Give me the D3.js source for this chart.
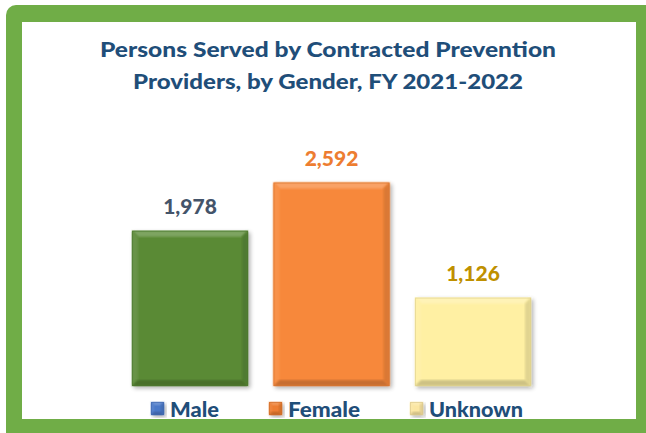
<!DOCTYPE html>
<html>
<head>
<meta charset="utf-8">
<script src="https://cdn.jsdelivr.net/npm/d3@7"></script>
<style>
  html, body { margin: 0; padding: 0; background: #ffffff; }
  svg { display: block; }
</style>
</head>
<body>
<svg id="chart" width="646" height="433"></svg>
<script>
// Persons served, by gender
const categories = ["Male", "Female", "Unknown"];
const values = [1978, 2592, 1126];
const barColors = ["#5a8a36", "#f7883b", "#fff0a3"];
const labelColors = ["#44546a", "#ed7d31", "#bf9000"];
const legendColors = ["#4a78c8", "#ed7d31", "#fbe6a2"];
const titleLines = ["Persons Served by Contracted Prevention", "Providers, by Gender, FY 2021-2022"];

const W = 646, H = 433;
const svg = d3.select("#chart");
const FONT = "Lato, 'Open Sans', sans-serif";

// Frame: thick green border around a white panel
svg.append("rect").attr("x", 0).attr("y", 0).attr("width", W).attr("height", H).attr("fill", "#ffffff");
svg.append("rect").attr("x", 6).attr("y", 5).attr("width", W + 20).attr("height", H + 20)
  .attr("rx", 10).attr("fill", "#70ad47");
svg.append("rect").attr("x", 22).attr("y", 22).attr("width", 614).attr("height", 397).attr("fill", "#ffffff");

const defs = svg.append("defs");
const shadow = defs.append("filter").attr("id", "shadow")
  .attr("x", "-10%").attr("y", "-10%").attr("width", "130%").attr("height", "130%");
shadow.append("feGaussianBlur").attr("in", "SourceAlpha").attr("stdDeviation", 2).attr("result", "b");
shadow.append("feOffset").attr("in", "b").attr("dx", 2).attr("dy", 2).attr("result", "o");
shadow.append("feComponentTransfer").attr("in", "o").attr("result", "s")
  .append("feFuncA").attr("type", "linear").attr("slope", 0.3);
const merge = shadow.append("feMerge");
merge.append("feMergeNode").attr("in", "s");
merge.append("feMergeNode").attr("in", "SourceGraphic");
const soften = defs.append("filter").attr("id", "soft");
soften.append("feGaussianBlur").attr("stdDeviation", 0.8);

// Title
svg.append("g").selectAll("text").data(titleLines).join("text")
  .attr("x", 328).attr("y", (d, i) => 57 + i * 32)
  .attr("text-anchor", "middle")
  .attr("font-family", FONT).attr("font-weight", 900).attr("font-size", 21)
  .attr("fill", "#1f4e79")
  .attr("textLength", (d, i) => i === 0 ? 456 : 390)
  .attr("lengthAdjust", "spacingAndGlyphs")
  .text(d => d);

// Scales
const x = d3.scaleBand().domain(categories).range([119.25, 543.75])
  .paddingInner(0.18).paddingOuter(0.09);
const y = d3.scaleLinear().domain([0, 3000]).range([386, 386 - 3000 * 0.0785]);

// Beveled bar: base rect plus soft light/dark edge facets
function bevelBar(g, x0, y0, w, h, color, bw) {
  const b = Math.min(bw, h / 2);
  const c = d3.color(color);
  const light = d3.interpolateRgb(color, "#ffffff")(0.22);
  const lighter = d3.interpolateRgb(color, "#ffffff")(0.08);
  const dark = c.darker(0.35).formatHex();
  const darker = c.darker(0.6).formatHex();
  const grp = g.append("g").attr("filter", "url(#shadow)");
  grp.append("rect").attr("x", x0).attr("y", y0).attr("width", w).attr("height", h).attr("fill", color);
  const x1 = x0 + w, y1 = y0 + h;
  const facets = [
    { pts: [[x0, y0], [x1, y0], [x1 - b, y0 + b], [x0 + b, y0 + b]], fill: light },
    { pts: [[x0, y0], [x0 + b, y0 + b], [x0 + b, y1 - b], [x0, y1]], fill: lighter },
    { pts: [[x1, y0], [x1, y1], [x1 - b, y1 - b], [x1 - b, y0 + b]], fill: dark },
    { pts: [[x0, y1], [x0 + b, y1 - b], [x1 - b, y1 - b], [x1, y1]], fill: darker }
  ];
  grp.selectAll("polygon").data(facets).join("polygon")
    .attr("points", d => d.pts.map(p => p.join(",")).join(" "))
    .attr("fill", d => d.fill)
    .attr("filter", "url(#soft)");
  // thin dark rim
  grp.append("rect").attr("x", x0 + 0.5).attr("y", y0 + 0.5).attr("width", w - 1).attr("height", h - 1)
    .attr("fill", "none").attr("stroke", c.darker(0.5).formatHex()).attr("stroke-opacity", 0.5);
}

const bars = svg.append("g");
categories.forEach((cat, i) => {
  bevelBar(bars, x(cat), y(values[i]), x.bandwidth(), y(0) - y(values[i]), barColors[i], 6);
});

// Value labels
const fmt = d3.format(",");
svg.append("g").selectAll("text").data(categories).join("text")
  .attr("x", d => x(d) + x.bandwidth() / 2)
  .attr("y", (d, i) => y(values[i]) - 17)
  .attr("text-anchor", "middle")
  .attr("font-family", FONT).attr("font-weight", 900).attr("font-size", 21)
  .attr("fill", (d, i) => labelColors[i])
  .text((d, i) => fmt(values[i]));

// Legend
const legendX = [151, 269, 410];
const legendW = [49, 72, 94];
const legend = svg.append("g");
categories.forEach((cat, i) => {
  bevelBar(legend, legendX[i], 402, 13, 13, legendColors[i], 3);
  legend.append("text")
    .attr("x", legendX[i] + 19).attr("y", 416.5)
    .attr("font-family", FONT).attr("font-weight", 900).attr("font-size", 21.5)
    .attr("fill", "#1f4e79")
    .attr("textLength", legendW[i])
    .attr("lengthAdjust", "spacingAndGlyphs")
    .text(cat);
});
</script>
</body>
</html>
